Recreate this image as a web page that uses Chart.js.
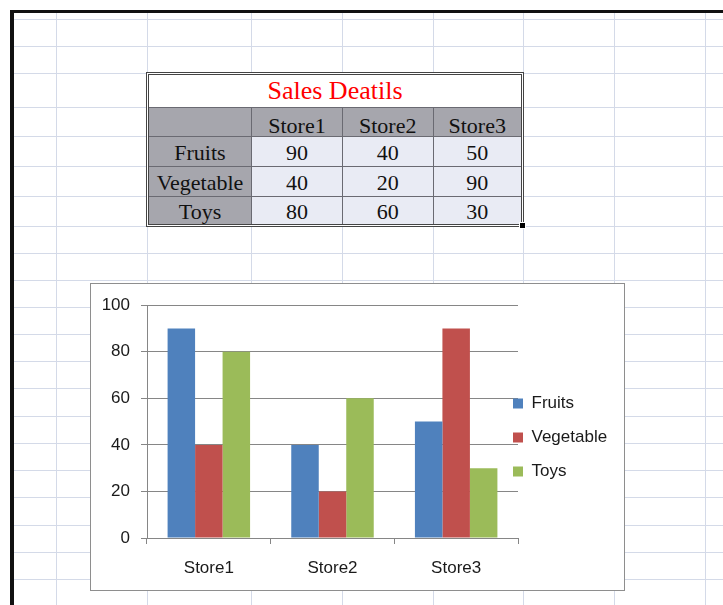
<!DOCTYPE html>
<html>
<head>
<meta charset="utf-8">
<script src="https://cdn.jsdelivr.net/npm/chart.js@4.4.1/dist/chart.umd.min.js"></script>
<style>
  html, body { margin: 0; padding: 0; background: #fff; }
  #sheet { position: relative; width: 723px; height: 605px; overflow: hidden; background: #fff; }
  .gl { position: absolute; background: #d4dae8; }
  .frame { position: absolute; background: #111; }
  #tbl { position: absolute; left: 146px; top: 72px; width: 372px; height: 149px; border: 3px double #444; background: #fff; }
  .cell { position: absolute; box-sizing: border-box; text-align: center; font-family: "Liberation Serif", serif; font-size: 22px; color: #111; }
  .cell span { position: relative; }
  .hdr { background: #a6a6ad; }
  .val { background: #e9ebf4; }
  #handle { position: absolute; left: 519px; top: 222px; width: 5px; height: 5px; background: #000; border: 1px solid #fff; }
  #chartBox { position: absolute; left: 90px; top: 283px; width: 533px; height: 306px; border: 1px solid #8e8e8e; background: #fff; }
  #chartBox canvas { display: block; }
</style>
</head>
<body>
<div id="sheet">
  <div id="tbl"></div>
  <div id="handle"></div>
  <div id="chartBox"><canvas id="myChart" width="533" height="306"></canvas></div>
</div>
<script>
// sales data
var stores = ['Store1', 'Store2', 'Store3'];
var products = ['Fruits', 'Vegetable', 'Toys'];
var fruits = [90, 40, 50];
var vegetable = [40, 20, 90];
var toys = [80, 60, 30];
var tableTitle = 'Sales Deatils';

// sheet layout (gridlines, table cells)
var colLines = [56, 147, 251, 342, 433, 523, 614, 705];
var rowLines = [19, 46, 73, 107, 136, 166, 196, 226, 253, 280, 307, 334, 361, 388, 416, 443, 470, 497, 525, 552, 579];
var tblCols = [0, 103, 194, 284.5, 372];
var tblRows = [0, 32.5, 62, 92, 121.5, 149];
var rowShift = [0, 3, 1, 1, 1];

var sheet = document.getElementById('sheet');
function addDiv(cls, css) {
  var d = document.createElement('div');
  d.className = cls;
  d.style.cssText = css;
  sheet.insertBefore(d, sheet.firstChild);
  return d;
}
colLines.forEach(function (x) { addDiv('gl', 'left:' + x + 'px;top:13px;width:1px;height:600px'); });
rowLines.forEach(function (y) { addDiv('gl', 'left:14px;top:' + y + 'px;width:720px;height:1px'); });
addDiv('frame', 'left:10px;top:10px;width:713px;height:3px');
addDiv('frame', 'left:10px;top:10px;width:4px;height:595px');

// table
var tbl = document.getElementById('tbl');
function cell(r, c, c2, text, cls, extra) {
  var d = document.createElement('div');
  d.className = 'cell ' + cls;
  var x = tblCols[c], w = tblCols[c2] - x, y = tblRows[r], h = tblRows[r + 1] - y;
  d.style.cssText = 'left:' + x + 'px;top:' + y + 'px;width:' + w + 'px;height:' + h + 'px;line-height:' + h + 'px;' +
    'border-right:1px solid #6a6a72;border-bottom:1px solid #6a6a72;' + (extra || '');
  var s = document.createElement('span');
  s.textContent = text;
  s.style.top = rowShift[r] + 'px';
  d.appendChild(s);
  tbl.appendChild(d);
}
cell(0, 0, 4, tableTitle, '', 'color:#ff0000;font-size:26px;background:#fff;border-right:none');
cell(1, 0, 1, '', 'hdr');
stores.forEach(function (s, i) { cell(1, i + 1, i + 2, s, 'hdr', i == 2 ? 'border-right:none' : ''); });
var rows = [fruits, vegetable, toys];
products.forEach(function (p, r) {
  var last = r == 2 ? 'border-bottom:none;' : '';
  cell(r + 2, 0, 1, p, 'hdr', last);
  rows[r].forEach(function (v, i) { cell(r + 2, i + 1, i + 2, v, 'val', last + (i == 2 ? 'border-right:none' : '')); });
});

// chart
var txt = '#1a1a1a';
var axisGray = '#868686';
var font = { family: 'Liberation Sans', size: 17 };

var ctx = document.getElementById('myChart').getContext('2d');
var chart = new Chart(ctx, {
  type: 'bar',
  data: {
    labels: stores,
    datasets: [
      { label: 'Fruits', data: fruits, backgroundColor: '#4f81bd' },
      { label: 'Vegetable', data: vegetable, backgroundColor: '#c0504d' },
      { label: 'Toys', data: toys, backgroundColor: '#9bbb59' }
    ]
  },
  options: {
    responsive: false,
    animation: false,
    devicePixelRatio: 1,
    layout: { padding: { top: 21, left: 0, right: 0, bottom: 0 } },
    datasets: { bar: { categoryPercentage: 0.667, barPercentage: 1 } },
    plugins: {
      tooltip: { enabled: false },
      legend: {
        position: 'right',
        maxWidth: 106,
        labels: { boxWidth: 10, boxHeight: 10, padding: 17, color: txt, font: font }
      }
    },
    scales: {
      x: {
        grid: { drawOnChartArea: false, tickLength: 6, color: axisGray },
        border: { color: axisGray },
        ticks: { padding: 14, color: txt, font: font },
        afterFit: function (s) { s.height = 52; }
      },
      y: {
        min: 0,
        max: 100,
        grid: { tickLength: 6, color: axisGray },
        border: { color: axisGray },
        ticks: { stepSize: 20, padding: 11, color: txt, font: font },
        afterFit: function (s) { s.width = 56; }
      }
    }
  },
  plugins: [{
    id: 'legendShift',
    afterLayout: function (c) {
      // excel puts the legend keys a bit over the plot edge, and a bit higher
      c.legend.left -= 22;
      c.legend.top -= 10;
      c.legend.bottom -= 10;
    }
  }]
});
</script>
</body>
</html>
